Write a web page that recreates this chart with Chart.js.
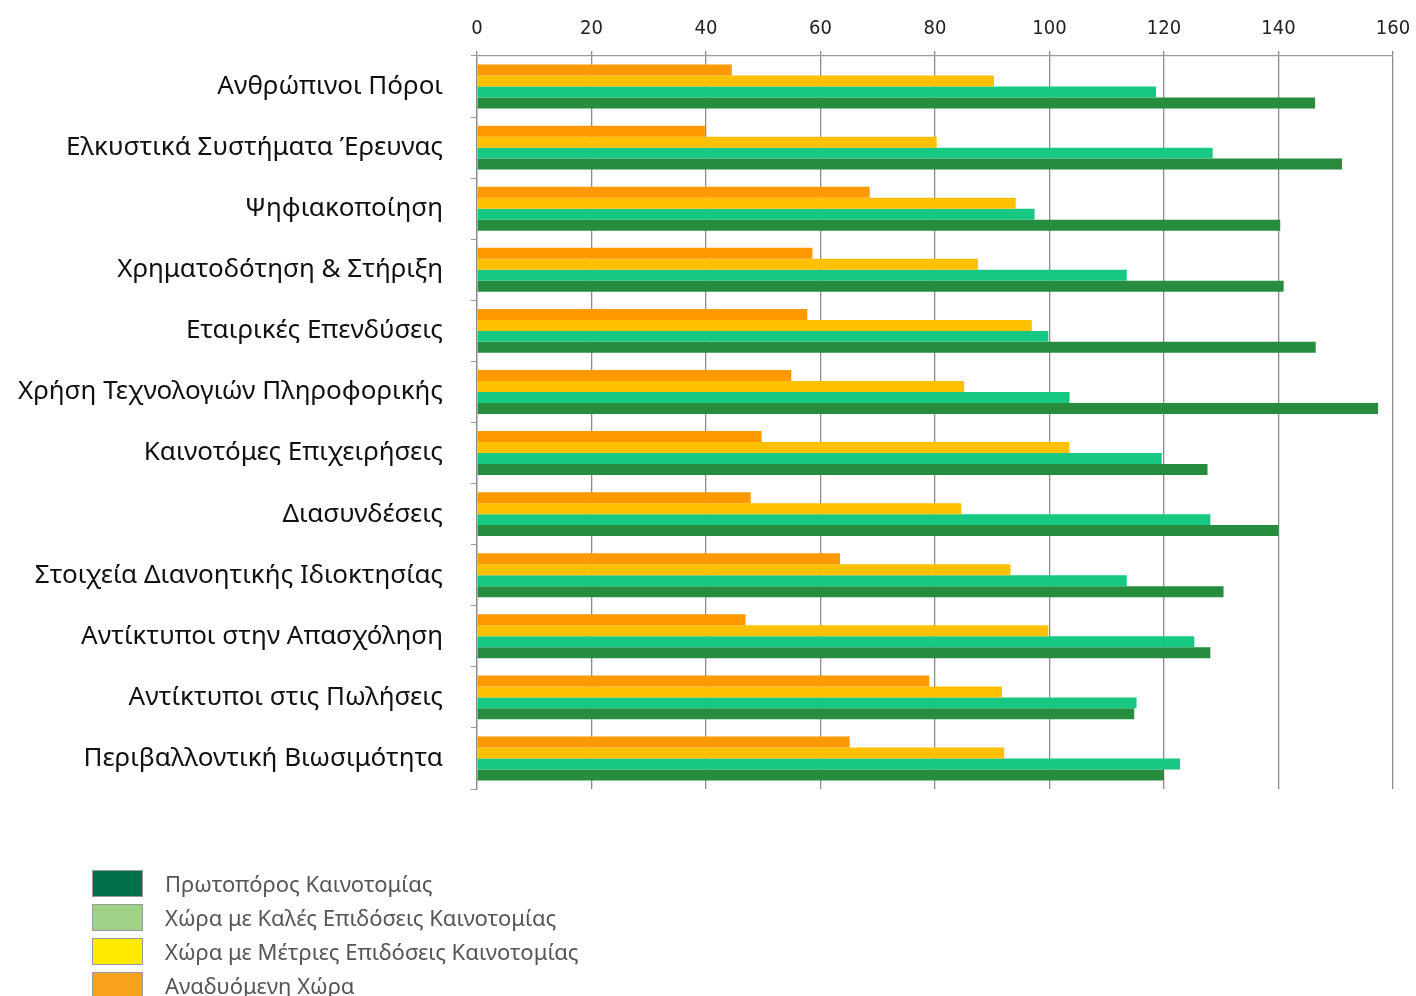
<!DOCTYPE html>
<html lang="el">
<head>
<meta charset="utf-8">
<title>Δείκτες Καινοτομίας</title>
<script src="https://cdn.jsdelivr.net/npm/chart.js@4.4.1/dist/chart.umd.min.js"></script>
<style>
  html, body { margin: 0; padding: 0; background: #fff; }
  .wrap { position: relative; width: 1416px; height: 996px; overflow: hidden; }
  #chart { position: absolute; left: 0; top: 0; }
  .legend { position: absolute; left: 92px; top: 866px; font-family: 'Noto Sans', sans-serif; font-size: 22px; color: #555; }
  .legend__row { display: flex; align-items: center; height: 34px; }
  .legend__box { width: 49px; height: 25px; border: 1px solid #9a9a9a; margin-right: 22px; }
</style>
</head>
<body>
<div class="wrap">
  <canvas id="chart" width="1416" height="996"></canvas>
  <div class="legend" id="legend"></div>
</div>
<script>
(function () {
  'use strict';

  var categories = [
    'Ανθρώπινοι Πόροι',
    'Ελκυστικά Συστήματα Έρευνας',
    'Ψηφιακοποίηση',
    'Χρηματοδότηση & Στήριξη',
    'Εταιρικές Επενδύσεις',
    'Χρήση Τεχνολογιών Πληροφορικής',
    'Καινοτόμες Επιχειρήσεις',
    'Διασυνδέσεις',
    'Στοιχεία Διανοητικής Ιδιοκτησίας',
    'Αντίκτυποι στην Απασχόληση',
    'Αντίκτυποι στις Πωλήσεις',
    'Περιβαλλοντική Βιωσιμότητα'
  ];

  var emerging = [44.5, 39.8, 68.6, 58.6, 57.7, 54.9, 49.7, 47.8, 63.4, 46.9, 79.0, 65.1];
  var moderate = [90.3, 80.3, 94.1, 87.5, 96.9, 85.1, 103.5, 84.6, 93.2, 99.8, 91.7, 92.1];
  var strong = [118.6, 128.5, 97.4, 113.5, 99.8, 103.5, 119.6, 128.1, 113.5, 125.3, 115.2, 122.8];
  var leader = [146.4, 151.1, 140.3, 140.9, 146.5, 157.4, 127.6, 140.0, 130.4, 128.1, 114.8, 120.0];

  var xTicks = [0, 20, 40, 60, 80, 100, 120, 140, 160];

  var legendItems = [
    { label: 'Πρωτοπόρος Καινοτομίας', color: '#00704a' },
    { label: 'Χώρα με Καλές Επιδόσεις Καινοτομίας', color: '#9fd189' },
    { label: 'Χώρα με Μέτριες Επιδόσεις Καινοτομίας', color: '#ffea00' },
    { label: 'Αναδυόμενη Χώρα', color: '#f7a11c' }
  ];

  function bar(label, data, color) {
    return {
      label: label,
      data: data,
      backgroundColor: color,
      borderWidth: 0,
      barPercentage: 1,
      categoryPercentage: 0.72
    };
  }

  new Chart(document.getElementById('chart'), {
    type: 'bar',
    data: {
      labels: categories,
      datasets: [
        bar('Αναδυόμενη Χώρα', emerging, '#ff9900'),
        bar('Χώρα με Μέτριες Επιδόσεις Καινοτομίας', moderate, '#ffc000'),
        bar('Χώρα με Καλές Επιδόσεις Καινοτομίας', strong, '#16c882'),
        bar('Πρωτοπόρος Καινοτομίας', leader, '#288c3f')
      ]
    },
    options: {
      indexAxis: 'y',
      responsive: false,
      animation: false,
      layout: { padding: { left: 0, top: 0, right: 23, bottom: 207 } },
      plugins: { legend: { display: false }, tooltip: { enabled: false } },
      scales: {
        x: {
          position: 'top',
          min: 0,
          max: 160,
          afterBuildTicks: function (scale) {
            scale.ticks = xTicks.map(function (v) { return { value: v }; });
          },
          afterFit: function (scale) {
            scale.height = 56;
            scale.paddingLeft = 0;
            scale.paddingRight = 0;
          },
          ticks: {
            color: '#222',
            padding: 10,
            font: { family: "'Liberation Sans Narrow', 'DejaVu Sans Condensed', sans-serif", size: 20 }
          },
          grid: { color: '#8c8c8c', lineWidth: 1.3, tickLength: 5 },
          border: { color: '#9a9a9a', width: 1.3 }
        },
        y: {
          afterFit: function (scale) { scale.width = 477; },
          ticks: {
            color: '#111',
            padding: 28,
            font: { family: "'Noto Sans', sans-serif", size: 26 }
          },
          grid: { drawOnChartArea: false, offset: true, tickLength: 6, color: '#9a9a9a' },
          border: { color: '#c8c8c8' }
        }
      }
    }
  });

  var legend = document.getElementById('legend');
  legend.innerHTML = legendItems.map(function (item) {
    return '<div class="legend__row"><span class="legend__box" style="background:' + item.color + '"></span>' + item.label + '</div>';
  }).join('');
})();
</script>
</body>
</html>
